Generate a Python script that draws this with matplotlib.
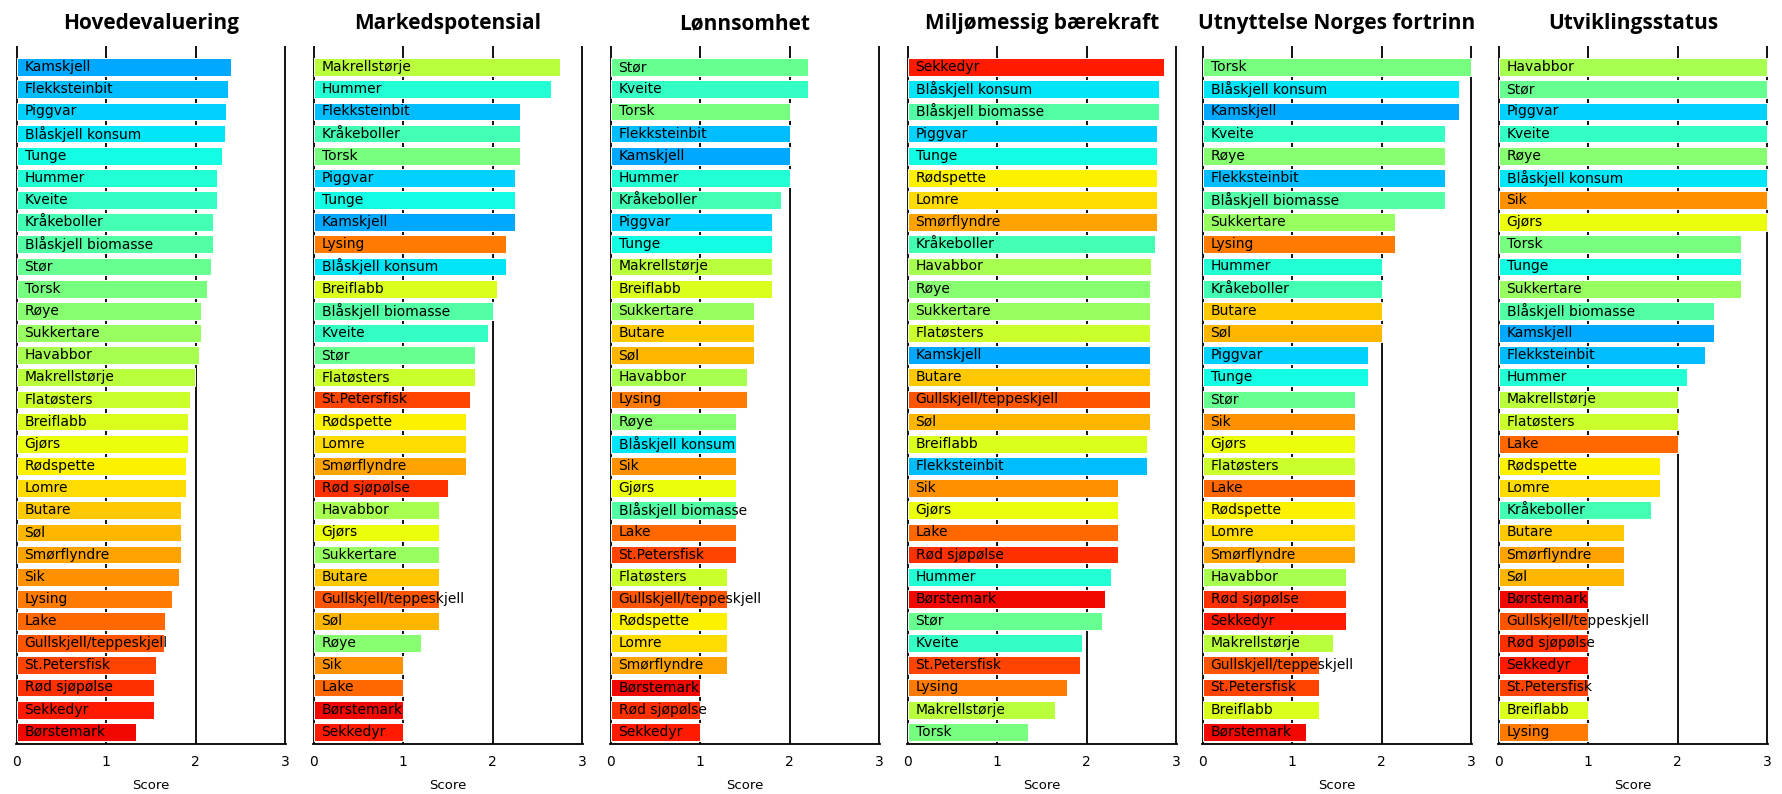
import numpy as np
import matplotlib.pyplot as plt

# rekkefølge i hovedevalueringen (gir også fargen til hver art)
arter = ['Kamskjell', 'Flekksteinbit', 'Piggvar', 'Blåskjell konsum', 'Tunge', 'Hummer',
         'Kveite', 'Kråkeboller', 'Blåskjell biomasse', 'Stør', 'Torsk', 'Røye',
         'Sukkertare', 'Havabbor', 'Makrellstørje', 'Flatøsters', 'Breiflabb', 'Gjørs',
         'Rødspette', 'Lomre', 'Butare', 'Søl', 'Smørflyndre', 'Sik', 'Lysing', 'Lake',
         'Gullskjell/teppeskjell', 'St.Petersfisk', 'Rød sjøpølse', 'Sekkedyr', 'Børstemark']

hoved_score = [2.39, 2.36, 2.34, 2.33, 2.29, 2.24, 2.24, 2.19, 2.19, 2.17, 2.13, 2.06,
               2.06, 2.03, 1.99, 1.93, 1.91, 1.91, 1.89, 1.89, 1.84, 1.84, 1.83, 1.81,
               1.73, 1.66, 1.64, 1.56, 1.53, 1.53, 1.33]

marked_navn = ['Makrellstørje', 'Hummer', 'Flekksteinbit', 'Kråkeboller', 'Torsk', 'Piggvar',
               'Tunge', 'Kamskjell', 'Lysing', 'Blåskjell konsum', 'Breiflabb',
               'Blåskjell biomasse', 'Kveite', 'Stør', 'Flatøsters', 'St.Petersfisk',
               'Rødspette', 'Lomre', 'Smørflyndre', 'Rød sjøpølse', 'Havabbor', 'Gjørs',
               'Sukkertare', 'Butare', 'Gullskjell/teppeskjell', 'Søl', 'Røye', 'Sik', 'Lake',
               'Børstemark', 'Sekkedyr']
marked_score = [2.75, 2.65, 2.3, 2.3, 2.3, 2.25, 2.25, 2.25, 2.15, 2.15, 2.05, 2.0, 1.95,
                1.8, 1.8, 1.75, 1.7, 1.7, 1.7, 1.5, 1.4, 1.4, 1.4, 1.4, 1.4, 1.4, 1.2,
                1.0, 1.0, 1.0, 1.0]

lonn_navn = ['Stør', 'Kveite', 'Torsk', 'Flekksteinbit', 'Kamskjell', 'Hummer', 'Kråkeboller',
             'Piggvar', 'Tunge', 'Makrellstørje', 'Breiflabb', 'Sukkertare', 'Butare', 'Søl',
             'Havabbor', 'Lysing', 'Røye', 'Blåskjell konsum', 'Sik', 'Gjørs',
             'Blåskjell biomasse', 'Lake', 'St.Petersfisk', 'Flatøsters',
             'Gullskjell/teppeskjell', 'Rødspette', 'Lomre', 'Smørflyndre', 'Børstemark',
             'Rød sjøpølse', 'Sekkedyr']
lonn_score = [2.2, 2.2, 2.0, 2.0, 2.0, 2.0, 1.9, 1.8, 1.8, 1.8, 1.8, 1.6, 1.6, 1.6, 1.52,
              1.52, 1.4, 1.4, 1.4, 1.4, 1.4, 1.4, 1.4, 1.3, 1.3, 1.3, 1.3, 1.3, 1.0, 1.0, 1.0]

miljo_navn = ['Sekkedyr', 'Blåskjell konsum', 'Blåskjell biomasse', 'Piggvar', 'Tunge',
              'Rødspette', 'Lomre', 'Smørflyndre', 'Kråkeboller', 'Havabbor', 'Røye',
              'Sukkertare', 'Flatøsters', 'Kamskjell', 'Butare', 'Gullskjell/teppeskjell',
              'Søl', 'Breiflabb', 'Flekksteinbit', 'Sik', 'Gjørs', 'Lake', 'Rød sjøpølse',
              'Hummer', 'Børstemark', 'Stør', 'Kveite', 'St.Petersfisk', 'Lysing',
              'Makrellstørje', 'Torsk']
miljo_score = [2.86, 2.81, 2.81, 2.78, 2.78, 2.78, 2.78, 2.78, 2.76, 2.72, 2.71, 2.71, 2.71,
               2.71, 2.71, 2.71, 2.71, 2.67, 2.67, 2.35, 2.35, 2.35, 2.35, 2.27, 2.2, 2.17,
               1.95, 1.92, 1.78, 1.64, 1.34]

fortrinn_navn = ['Torsk', 'Blåskjell konsum', 'Kamskjell', 'Kveite', 'Røye', 'Flekksteinbit',
                 'Blåskjell biomasse', 'Sukkertare', 'Lysing', 'Hummer', 'Kråkeboller',
                 'Butare', 'Søl', 'Piggvar', 'Tunge', 'Stør', 'Sik', 'Gjørs', 'Flatøsters',
                 'Lake', 'Rødspette', 'Lomre', 'Smørflyndre', 'Havabbor', 'Rød sjøpølse',
                 'Sekkedyr', 'Makrellstørje', 'Gullskjell/teppeskjell', 'St.Petersfisk',
                 'Breiflabb', 'Børstemark']
fortrinn_score = [3.0, 2.86, 2.86, 2.7, 2.7, 2.7, 2.7, 2.15, 2.15, 2.0, 2.0, 2.0, 2.0, 1.85,
                  1.85, 1.7, 1.7, 1.7, 1.7, 1.7, 1.7, 1.7, 1.7, 1.6, 1.6, 1.6, 1.45, 1.3,
                  1.3, 1.3, 1.15]

utvikling_navn = ['Havabbor', 'Stør', 'Piggvar', 'Kveite', 'Røye', 'Blåskjell konsum', 'Sik',
                  'Gjørs', 'Torsk', 'Tunge', 'Sukkertare', 'Blåskjell biomasse', 'Kamskjell',
                  'Flekksteinbit', 'Hummer', 'Makrellstørje', 'Flatøsters', 'Lake',
                  'Rødspette', 'Lomre', 'Kråkeboller', 'Butare', 'Smørflyndre', 'Søl',
                  'Børstemark', 'Gullskjell/teppeskjell', 'Rød sjøpølse', 'Sekkedyr',
                  'St.Petersfisk', 'Breiflabb', 'Lysing']
utvikling_score = [3.0, 3.0, 3.0, 3.0, 3.0, 3.0, 3.0, 3.0, 2.7, 2.7, 2.7, 2.4, 2.4, 2.3,
                   2.1, 2.0, 2.0, 2.0, 1.8, 1.8, 1.7, 1.4, 1.4, 1.4, 1.0, 1.0, 1.0, 1.0,
                   1.0, 1.0, 1.0]

titler = ['Hovedevaluering', 'Markedspotensial', 'Lønnsomhet', 'Miljømessig bærekraft',
          'Utnyttelse Norges fortrinn', 'Utviklingsstatus']
paneler = [(arter, hoved_score), (marked_navn, marked_score), (lonn_navn, lonn_score),
           (miljo_navn, miljo_score), (fortrinn_navn, fortrinn_score),
           (utvikling_navn, utvikling_score)]

farger = dict(zip(arter, plt.cm.jet(np.linspace(0.29, 0.9, len(arter)))))

fig = plt.figure(figsize=(17.83, 7.94), dpi=100)
venstre = [16, 313, 610, 907, 1202, 1498]

for k, (navn, score) in enumerate(paneler):
    ax = fig.add_axes([venstre[k] / 1783, 50 / 794, 270 / 1783, 698 / 794])
    y = np.arange(len(navn))
    ax.barh(y, score, height=0.8, color=[farger[n] for n in navn],
            edgecolor='white', linewidth=0.7, zorder=2)
    for i, n in enumerate(navn):
        ax.text(0.09, i, n, va='center', ha='left', fontsize=10, zorder=3)
    ax.set_xlim(-0.006, 3.006)
    ax.set_ylim(30.55, -0.95)
    ax.set_xticks([0, 1, 2, 3])
    ax.set_yticks([])
    ax.tick_params(axis='x', length=0, pad=8, labelsize=10)
    ax.set_axisbelow(True)
    ax.xaxis.grid(True, color='black', linewidth=1.3)
    for s in ['top', 'left', 'right']:
        ax.spines[s].set_visible(False)
    ax.spines['bottom'].set_linewidth(1.3)
    ax.set_xlabel('Score', fontsize=9.5, labelpad=7)
    ax.set_title(titler[k], fontsize=15, fontweight='bold', family='Open Sans', pad=12)

fig.savefig('out.png', dpi=100)
